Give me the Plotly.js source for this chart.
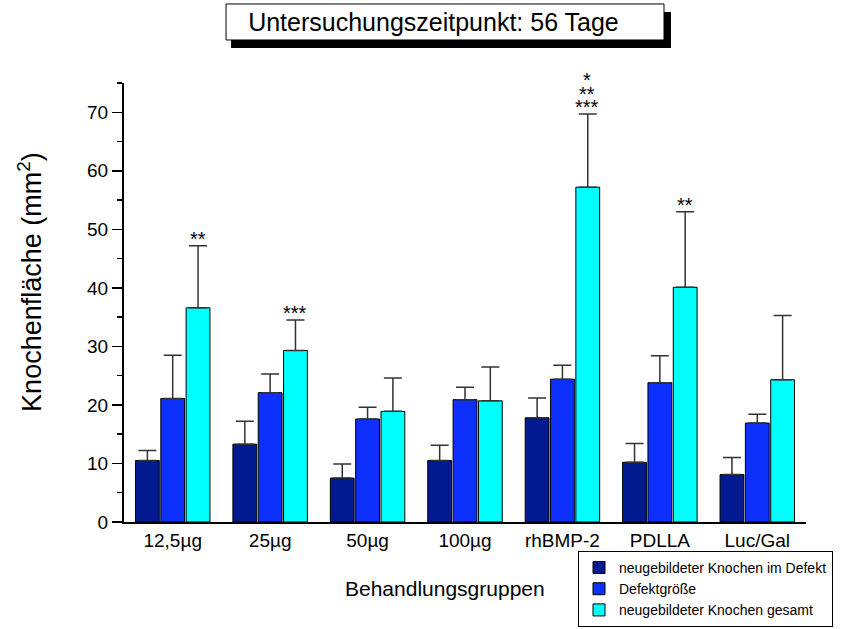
<!DOCTYPE html>
<html><head><meta charset="utf-8">
<script src="https://cdn.plot.ly/plotly-3.0.1.min.js"></script>
<style>html,body{margin:0;padding:0;background:#fff}#chart{width:868px;height:629px}</style>
</head><body><div id="chart"></div>
<script>
const categories = ['12,5µg','25µg','50µg','100µg','rhBMP-2','PDLLA','Luc/Gal'];
const seriesNames = ['neugebildeter Knochen im Defekt','Defektgröße','neugebildeter Knochen gesamt'];
const knochenDefekt    = [10.5, 13.3, 7.5, 10.5, 17.8, 10.2, 8.1];
const knochenDefektErr = [1.7, 3.9, 2.4, 2.6, 3.4, 3.2, 2.9];
const defektgroesse    = [21.1, 22.1, 17.6, 20.9, 24.4, 23.8, 16.9];
const defektgroesseErr = [7.4, 3.2, 2.0, 2.1, 2.4, 4.6, 1.5];
const knochenGesamt    = [36.6, 29.3, 18.9, 20.7, 57.2, 40.1, 24.3];
const knochenGesamtErr = [10.6, 5.2, 5.7, 5.8, 12.5, 12.9, 11.0];
const significance     = ['**','***','','','*|**|***','**',''];
const titleText = 'Untersuchungszeitpunkt: 56 Tage';
const xTitle = 'Behandlungsgruppen';
const yTitle = 'Knochenfläche (mm<sup>2</sup>)';

const FONT = 'Arial, "Liberation Sans", sans-serif';
const colors = ['#021a8f', '#0d30fc', '#00ffff'];
const values = [knochenDefekt, defektgroesse, knochenGesamt];
const errs = [knochenDefektErr, defektgroesseErr, knochenGesamtErr];

const traces = values.map((v, k) => ({
  type: 'bar',
  name: seriesNames[k],
  x: categories,
  y: v,
  marker: {color: colors[k], line: {color: '#000', width: 1}},
  error_y: {type: 'data', symmetric: false, array: errs[k], arrayminus: v.map(() => 0),
            color: '#333', thickness: 1.5, width: 9},
  hoverinfo: 'x+y'
}));

const annotations = [];
significance.forEach((s, i) => {
  if (!s) return;
  const lines = s.split('|');
  for (let j = 0; j < lines.length; j++) {
    annotations.push({
      text: lines[lines.length - 1 - j], x: categories[i], xref: 'x',
      y: knochenGesamt[i] + knochenGesamtErr[i], yref: 'y',
      xshift: 25, yanchor: 'bottom', yshift: 5 + 13.5 * j,
      height: 12, valign: 'top', borderpad: 0,
      showarrow: false, font: {family: FONT, size: 20, color: '#000'}
    });
  }
});
annotations.push({
  text: xTitle, xref: 'paper', yref: 'paper', x: 0.4707, y: -0.1526,
  xanchor: 'center', yanchor: 'middle', showarrow: false,
  font: {family: FONT, size: 21, color: '#000'}
});
annotations.push({
  text: yTitle, xref: 'paper', yref: 'paper', x: -0.1378, y: 0.547,
  xanchor: 'center', yanchor: 'middle', textangle: -90, showarrow: false,
  font: {family: FONT, size: 27, color: '#000'}
});

const layout = {
  width: 868, height: 629,
  margin: {l: 124, r: 62, t: 83, b: 107, autoexpand: false},
  paper_bgcolor: '#fff', plot_bgcolor: '#fff',
  font: {family: FONT, color: '#000'},
  title: {text: titleText, font: {family: FONT, size: 25, color: '#000'},
          x: 0.4994, xref: 'container', xanchor: 'center',
          y: 1 - 22 / 629, yref: 'container', yanchor: 'middle'},
  barmode: 'group', bargap: 0.22, bargroupgap: 0.06,
  xaxis: {range: [-0.5, 6.5], showline: true, linewidth: 2, linecolor: '#000',
          ticks: '', showgrid: false, zeroline: false, automargin: false,
          tickfont: {family: FONT, size: 19, color: '#000'}},
  yaxis: {range: [0, 75], dtick: 10, tick0: 0, ticks: 'outside', ticklen: 10, tickwidth: 1.5,
          tickcolor: '#000', showline: true, linewidth: 2, linecolor: '#000',
          showgrid: false, zeroline: false, automargin: false,
          minor: {dtick: 5, ticks: 'outside', ticklen: 5, tickwidth: 1.5, tickcolor: '#000', showgrid: false},
          tickfont: {family: FONT, size: 19, color: '#000'}},
  showlegend: true,
  legend: {x: 0.6657, y: -0.239, xanchor: 'left', yanchor: 'bottom', orientation: 'v',
           bordercolor: '#000', borderwidth: 1, bgcolor: '#fff', traceorder: 'normal',
           font: {family: FONT, size: 14, color: '#000'}},
  shapes: [
    {type: 'rect', xref: 'paper', yref: 'paper', x0: 0.157, x1: 0.802, y0: 1.0797, y1: 1.1617,
     fillcolor: '#000', line: {width: 0}},
    {type: 'rect', xref: 'paper', yref: 'paper', x0: 0.1496, x1: 0.7918, y0: 1.098, y1: 1.18,
     fillcolor: '#fff', line: {color: '#000', width: 1}}
  ],
  annotations: annotations
};

Plotly.newPlot('chart', traces, layout, {displayModeBar: false, staticPlot: true});
</script>
</body></html>
